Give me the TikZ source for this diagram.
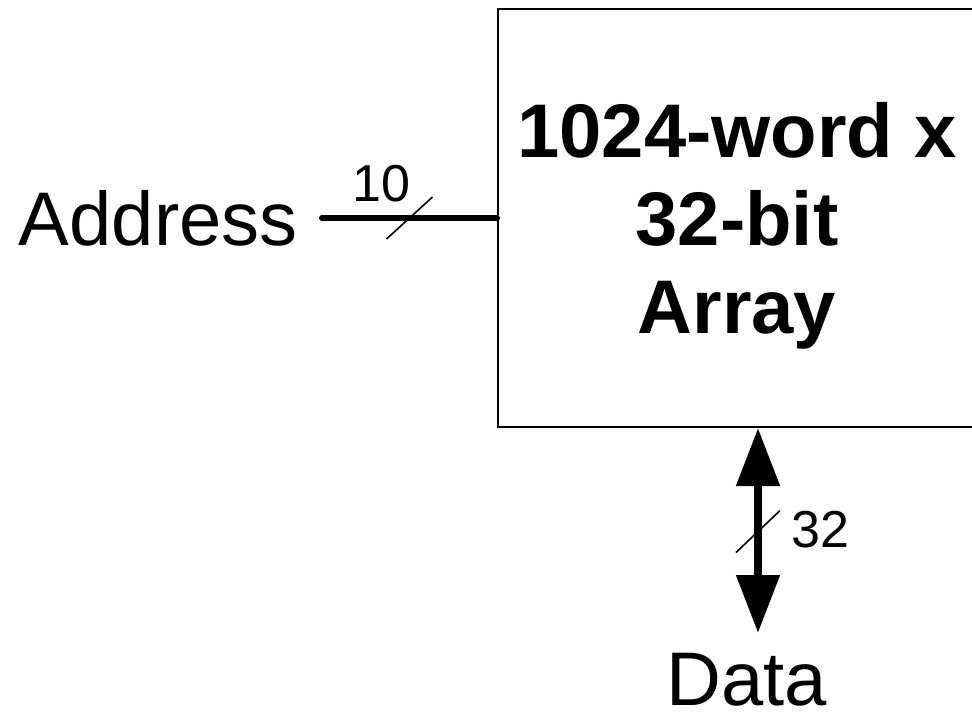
\documentclass[tikz,border=0pt]{standalone}
\usepackage{fontspec}
\setmainfont{Liberation Sans}
\usetikzlibrary{positioning}
\usetikzlibrary{arrows.meta}

\begin{document}
\begin{tikzpicture}[x=1pt,y=-1pt,
            array/.style={draw=black,line width=2pt,rectangle,minimum width=540pt,
            minimum height=418pt},
            title/.style={align=center,inner sep=0pt,font=\fontsize{76}{88}\selectfont\bfseries},
            port/.style={inner sep=0pt,font=\fontsize{76}{86}\selectfont},
            width/.style={inner sep=0pt,font=\fontsize{52}{60}\selectfont},
            bus/.style={line width=6pt,line cap=round},
            databus/.style={line width=8pt,{Triangle[length=58pt,width=42pt]}-{Triangle[length=58pt,width=42pt]}},
            slash/.style={line width=1.6pt}]
        \useasboundingbox (0,0) rectangle (972,714);
        \node[array] (mem) at (768,218) {};
        \node[title] (memtext) at (737,226) {1024-word x\\32-bit\\Array};
        \node[port, anchor=east] (address) at (298,218) {Address};
        \node[port, anchor=base] (data) at (747,705) {Data};
        \coordinate (dataend) at (758,633);

        \draw[bus] (address.east) ++(24,0) coordinate (addrin) -- coordinate[pos=0.5] (abus) (mem.west);
        \draw[databus] (mem.south -| dataend) -- coordinate[pos=0.505] (dbus) (dataend);

        \draw[slash] ([shift={(-23,21)}]abus) -- ([shift={(23,-21)}]abus);
        \draw[slash] ([shift={(-22,21)}]dbus) -- ([shift={(22,-21)}]dbus);
        \node[width] (abits) at ([shift={(-28,-34)}]abus) {10};
        \node[width] (dbits) at ([shift={(62,-2)}]dbus) {32};
    \end{tikzpicture}
\end{document}
